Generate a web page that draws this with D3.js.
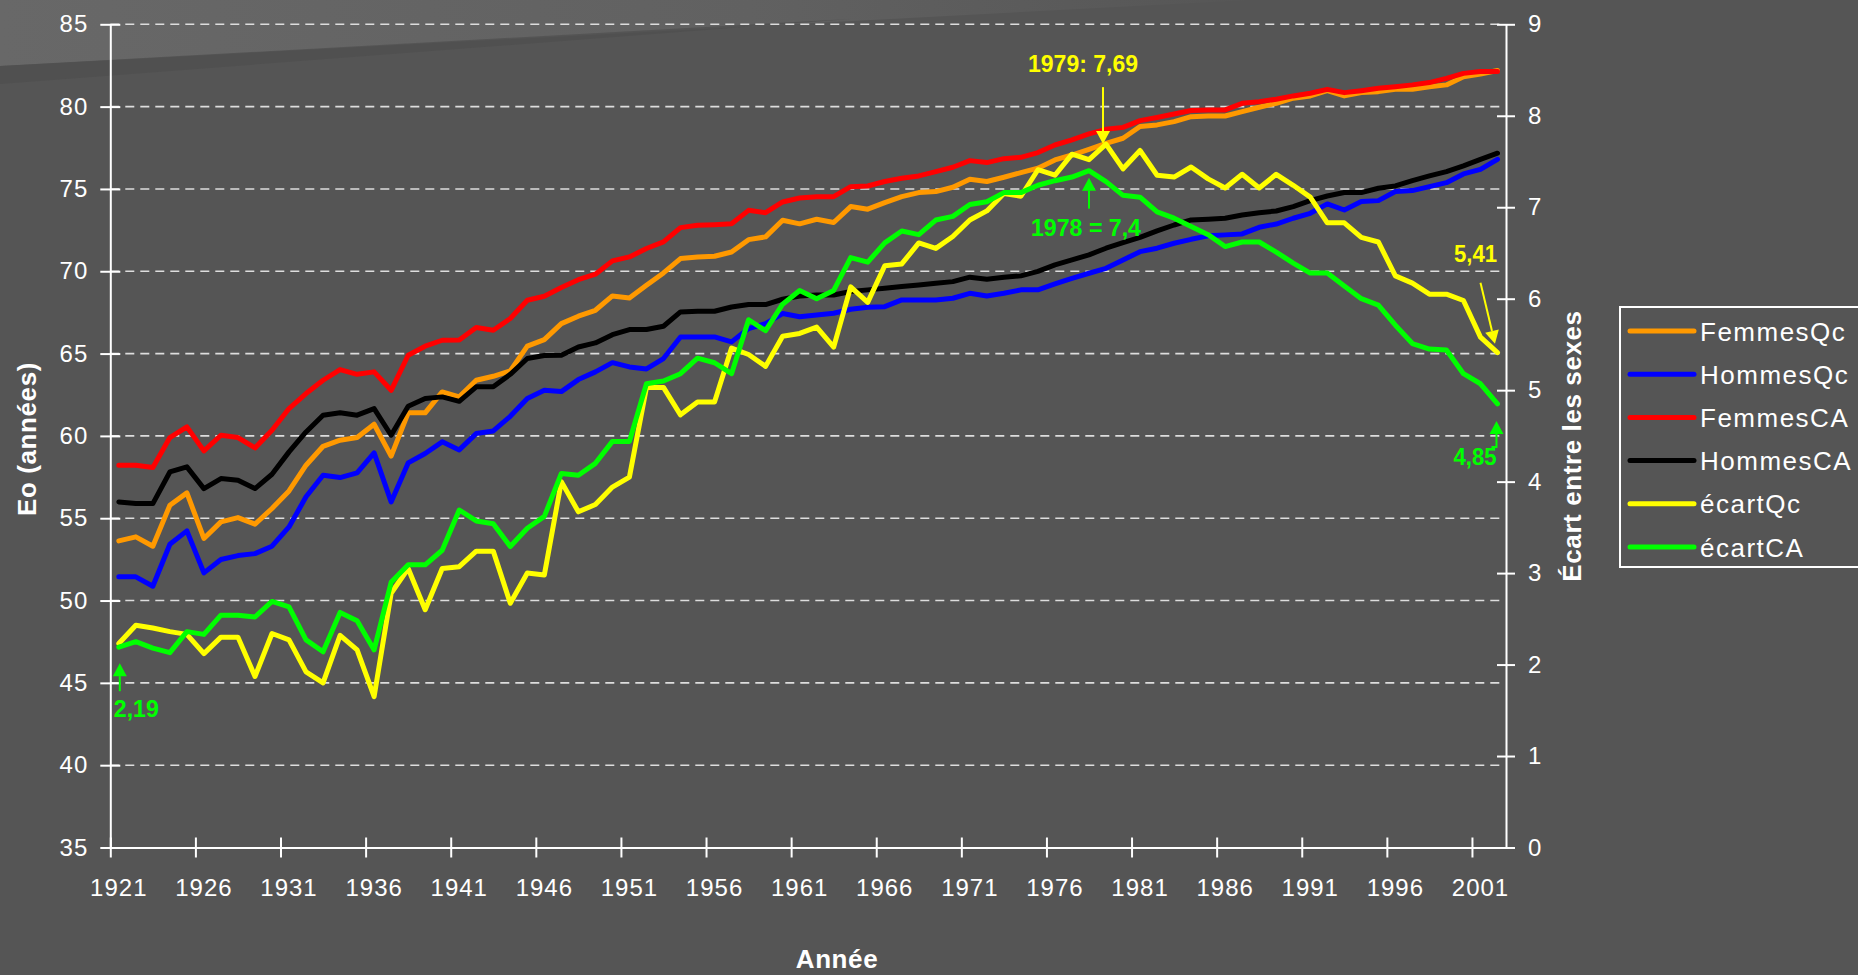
<!DOCTYPE html>
<html>
<head>
<meta charset="utf-8">
<title>Espérance de vie à la naissance, Québec et Canada, 1921-2002</title>
<script src="https://cdn.jsdelivr.net/npm/d3@7/dist/d3.min.js"></script>
<style>
  body { margin: 0; background: #555555; }
  svg { display: block; font-family: "Liberation Sans", Arial, sans-serif; }
  .tick text { fill: #ffffff; font-size: 24px; letter-spacing: 1px; }
  .tick line, .domain { stroke: #ffffff; stroke-width: 2; }
</style>
</head>
<body>
<div id="chart"></div>
<script>
// ---------------------------------------------------------------- data
const years = d3.range(1921, 2003);
const labelYears = years.filter(y => (y - 1921) % 5 === 0);
const leftTicks = d3.range(35, 86, 5);
const rightTicks = d3.range(0, 10);

const femmesQc = [
  53.62, 53.87, 53.30, 55.79, 56.54, 53.77, 54.78, 55.04, 54.64, 55.59,
  56.66, 58.22, 59.37, 59.74, 59.90, 60.71, 58.77, 61.40, 61.40, 62.67,
  62.37, 63.38, 63.62, 63.95, 65.45, 65.85, 66.82, 67.27, 67.63, 68.50,
  68.38, 69.15, 69.90, 70.77, 70.87, 70.91, 71.17, 71.92, 72.09, 73.10,
  72.88, 73.16, 72.96, 73.93, 73.77, 74.17, 74.53, 74.78, 74.84, 75.10,
  75.59, 75.45, 75.71, 75.99, 76.26, 76.76, 77.06, 77.41, 77.77, 78.08,
  78.79, 78.89, 79.09, 79.39, 79.43, 79.43, 79.70, 79.96, 80.20, 80.51,
  80.65, 80.97, 80.65, 80.85, 80.91, 81.05, 81.05, 81.21, 81.32, 81.82,
  81.98, 82.19];
const hommesQc = [
  51.44, 51.44, 50.87, 53.42, 54.23, 51.68, 52.49, 52.73, 52.85, 53.30,
  54.47, 56.30, 57.61, 57.47, 57.75, 58.97, 55.99, 58.36, 58.93, 59.64,
  59.15, 60.14, 60.30, 61.19, 62.27, 62.77, 62.69, 63.42, 63.89, 64.45,
  64.19, 64.07, 64.70, 66.01, 66.01, 66.01, 65.71, 66.52, 66.82, 67.43,
  67.24, 67.35, 67.45, 67.69, 67.81, 67.85, 68.26, 68.26, 68.26, 68.36,
  68.66, 68.50, 68.66, 68.87, 68.87, 69.23, 69.57, 69.88, 70.18, 70.69,
  71.19, 71.40, 71.70, 71.94, 72.15, 72.21, 72.27, 72.67, 72.87, 73.22,
  73.52, 74.09, 73.72, 74.23, 74.29, 74.84, 74.90, 75.14, 75.38, 75.91,
  76.19, 76.80];
const femmesCA = [
  58.22, 58.22, 58.08, 59.90, 60.55, 59.09, 60.04, 59.90, 59.27, 60.34,
  61.66, 62.57, 63.38, 64.03, 63.74, 63.89, 62.77, 64.90, 65.45, 65.81,
  65.82, 66.58, 66.42, 67.13, 68.24, 68.48, 69.01, 69.49, 69.82, 70.63,
  70.87, 71.38, 71.78, 72.65, 72.79, 72.83, 72.89, 73.70, 73.56, 74.21,
  74.45, 74.53, 74.53, 75.14, 75.18, 75.45, 75.65, 75.79, 76.05, 76.32,
  76.72, 76.60, 76.84, 76.92, 77.21, 77.67, 77.98, 78.34, 78.62, 78.74,
  79.15, 79.34, 79.55, 79.76, 79.80, 79.80, 80.20, 80.30, 80.45, 80.65,
  80.81, 81.05, 80.85, 80.97, 81.11, 81.21, 81.32, 81.46, 81.72, 82.02,
  82.13, 82.13];
const hommesCA = [
  55.99, 55.89, 55.89, 57.81, 58.12, 56.80, 57.41, 57.31, 56.80, 57.67,
  59.03, 60.24, 61.26, 61.40, 61.26, 61.66, 60.04, 61.80, 62.27, 62.37,
  62.10, 62.98, 62.98, 63.74, 64.70, 64.88, 64.90, 65.40, 65.65, 66.15,
  66.46, 66.46, 66.66, 67.53, 67.57, 67.57, 67.83, 67.98, 67.98, 68.30,
  68.50, 68.56, 68.56, 68.77, 68.87, 68.97, 69.07, 69.17, 69.27, 69.37,
  69.64, 69.51, 69.64, 69.72, 69.99, 70.39, 70.69, 71.00, 71.40, 71.74,
  72.06, 72.45, 72.81, 73.12, 73.16, 73.22, 73.42, 73.56, 73.66, 73.93,
  74.29, 74.57, 74.78, 74.78, 75.04, 75.18, 75.51, 75.79, 76.05, 76.40,
  76.80, 77.17];
const ecartQc = [
  2.23, 2.43, 2.40, 2.36, 2.33, 2.12, 2.30, 2.30, 1.87, 2.34,
  2.27, 1.92, 1.80, 2.32, 2.16, 1.65, 2.78, 3.05, 2.60, 3.05,
  3.07, 3.24, 3.24, 2.67, 3.00, 2.98, 4.00, 3.67, 3.75, 3.94,
  4.05, 5.03, 5.03, 4.73, 4.87, 4.87, 5.46, 5.39, 5.26, 5.59,
  5.62, 5.69, 5.47, 6.13, 5.96, 6.36, 6.38, 6.61, 6.55, 6.68,
  6.86, 6.96, 7.15, 7.12, 7.41, 7.35, 7.58, 7.52, 7.69, 7.42,
  7.62, 7.35, 7.33, 7.44, 7.31, 7.21, 7.36, 7.21, 7.36, 7.24,
  7.11, 6.83, 6.83, 6.67, 6.62, 6.25, 6.17, 6.05, 6.05, 5.98,
  5.58, 5.41];
const ecartCA = [
  2.19, 2.25, 2.18, 2.13, 2.36, 2.33, 2.54, 2.54, 2.52, 2.69,
  2.63, 2.27, 2.14, 2.57, 2.48, 2.16, 2.90, 3.09, 3.09, 3.25,
  3.69, 3.57, 3.54, 3.29, 3.49, 3.62, 4.09, 4.07, 4.20, 4.44,
  4.44, 5.07, 5.10, 5.18, 5.35, 5.30, 5.18, 5.77, 5.65, 5.94,
  6.09, 6.00, 6.09, 6.45, 6.40, 6.61, 6.74, 6.70, 6.86, 6.90,
  7.03, 7.06, 7.16, 7.16, 7.24, 7.29, 7.33, 7.40, 7.28, 7.13,
  7.11, 6.95, 6.88, 6.79, 6.70, 6.57, 6.62, 6.62, 6.51, 6.39,
  6.28, 6.28, 6.14, 6.00, 5.93, 5.71, 5.51, 5.45, 5.44, 5.18,
  5.07, 4.85];

// series: name, values, colour, which axis
const series = [
  {name: "FemmesQc", values: femmesQc, color: "#ff9900", axis: "left"},
  {name: "HommesQc", values: hommesQc, color: "#0000ff", axis: "left"},
  {name: "FemmesCA", values: femmesCA, color: "#ff0000", axis: "left"},
  {name: "HommesCA", values: hommesCA, color: "#000000", axis: "left"},
  {name: "écartQc", values: ecartQc, color: "#ffff00", axis: "right"},
  {name: "écartCA", values: ecartCA, color: "#00ff00", axis: "right"}
];

// ---------------------------------------------------------------- svg
const W = 1858, H = 975;
const plot = {left: 110.3, right: 1506, top: 24.3, bottom: 847.5};

const svg = d3.select("#chart").append("svg")
    .attr("width", W)
    .attr("height", H);

// background + lighter band top left
const defs = svg.append("defs");
const lite = defs.append("linearGradient").attr("id", "lite")
    .attr("x1", 0).attr("x2", 1).attr("y1", 0).attr("y2", 0);
lite.append("stop").attr("offset", 0).attr("stop-color", "#686868");
lite.append("stop").attr("offset", 0.6).attr("stop-color", "#616161");
lite.append("stop").attr("offset", 1).attr("stop-color", "#565656");

svg.append("rect").attr("width", W).attr("height", H).attr("fill", "#555555");
svg.append("polygon").attr("points", "0,0 1250,0 0,66").attr("fill", "url(#lite)");
svg.append("polygon").attr("points", "0,66 850,19 0,84").attr("fill", "#4e4e4e").attr("opacity", 0.7);

// ---------------------------------------------------------------- scales
const x = d3.scaleBand().domain(years).range([plot.left, plot.right]);
const xc = d => x(d) + x.bandwidth() / 2;
const xb = d3.scaleLinear().domain([0, years.length]).range([plot.left, plot.right]);
const yL = d3.scaleLinear().domain([35, 85]).range([plot.bottom, plot.top]);
const yR = d3.scaleLinear().domain([0, 9]).range([plot.bottom, plot.top]);

// ---------------------------------------------------------------- grid
svg.append("g").selectAll("line")
    .data(leftTicks.filter(v => v > 35))
    .enter().append("line")
    .attr("x1", plot.left).attr("x2", plot.right - 4)
    .attr("y1", d => yL(d)).attr("y2", d => yL(d))
    .attr("stroke", "#dddddd")
    .attr("stroke-width", 1.6)
    .attr("stroke-dasharray", "9,6");

// ---------------------------------------------------------------- axes
const gL = svg.append("g")
    .attr("transform", `translate(${plot.left},0)`)
    .call(d3.axisLeft(yL).tickValues(leftTicks).tickSize(10).tickSizeOuter(0).tickPadding(12));
gL.selectAll(".tick line").attr("x1", 10);

const gR = svg.append("g")
    .attr("transform", `translate(${plot.right},0)`)
    .call(d3.axisRight(yR).tickValues(rightTicks).tickSize(9).tickSizeOuter(0).tickPadding(13));
gR.selectAll(".tick line").attr("x1", -9);

const gB = svg.append("g")
    .attr("transform", `translate(0,${plot.bottom})`)
    .call(d3.axisBottom(xb).tickValues(d3.range(0, years.length, 5)).tickFormat("").tickSize(10).tickSizeOuter(0));
gB.selectAll(".tick line").attr("y1", -10);

const gLab = svg.append("g")
    .attr("transform", `translate(0,${plot.bottom})`)
    .call(d3.axisBottom(x).tickValues(labelYears).tickSize(0).tickPadding(31));
gLab.select(".domain").remove();

svg.selectAll(".tick text").attr("font-family", "Liberation Sans, Arial, sans-serif");

// axis titles
const title = (txt, tx, ty, rot) => svg.append("text")
    .attr("transform", `translate(${tx},${ty}) rotate(${rot})`)
    .attr("text-anchor", "middle")
    .attr("fill", "#ffffff")
    .style("font-size", "26px")
    .style("font-weight", "bold")
    .style("letter-spacing", "0.6px")
    .text(txt);
title("Eo (années)", 36, 439, -90);
title("Écart entre les sexes", 1581, 446, -90);
title("Année", 837, 968, 0);

// ---------------------------------------------------------------- lines
series.forEach(s => {
  const yS = s.axis === "left" ? yL : yR;
  const line = d3.line()
      .x((d, i) => xc(years[i]))
      .y(d => yS(d));
  svg.append("path")
      .datum(s.values)
      .attr("d", line)
      .attr("fill", "none")
      .attr("stroke", s.color)
      .attr("stroke-width", 5)
      .attr("stroke-linejoin", "round")
      .attr("stroke-linecap", "round");
});

// ---------------------------------------------------------------- annotations
function arrow(x1, y1, x2, y2, color) {
  const dx = x2 - x1, dy = y2 - y1, len = Math.hypot(dx, dy);
  const ux = dx / len, uy = dy / len, hl = 13, hw = 7;
  const bx = x2 - ux * hl, by = y2 - uy * hl;
  svg.append("line")
      .attr("x1", x1).attr("y1", y1).attr("x2", bx).attr("y2", by)
      .attr("stroke", color).attr("stroke-width", 2);
  svg.append("polygon")
      .attr("points", [[x2, y2], [bx - uy * hw, by + ux * hw], [bx + uy * hw, by - ux * hw]].join(" "))
      .attr("fill", color);
}
function note(txt, tx, ty, anchor, width, color) {
  svg.append("text")
      .attr("x", tx).attr("y", ty)
      .attr("text-anchor", anchor)
      .attr("fill", color)
      .attr("textLength", width)
      .attr("lengthAdjust", "spacingAndGlyphs")
      .style("font-size", "23px")
      .style("font-weight", "bold")
      .text(txt);
}

// 1979 maximum, Québec
const qx = xc(1979) - 3, qy = yR(7.69);
arrow(qx, qy - 57, qx, qy, "#ffff00");
note("1979: 7,69", qx - 20, qy - 72, "middle", 110, "#ffff00");

// 1978 maximum, Canada
const cx = xc(1978), cy = yR(7.4) + 7;
arrow(cx, cy + 31, cx, cy, "#00ff00");
note("1978 = 7,4", cx - 3, cy + 58, "middle", 110, "#00ff00");

// 2002, Québec
const ex = xc(2002) - 2.5, ey = yR(5.41) - 9;
arrow(ex - 14.5, ey - 61, ex, ey, "#ffff00");
note("5,41", ex + 2, ey - 82, "end", 43, "#ffff00");

// 2002, Canada
const gx = xc(2002) - 1, gy = yR(4.85) + 17;
svg.append("polyline")
    .attr("points", `${gx - 5},${gy + 26} ${gx},${gy + 26} ${gx},${gy + 12}`)
    .attr("fill", "none").attr("stroke", "#00ff00").attr("stroke-width", 2);
arrow(gx, gy + 14, gx, gy, "#00ff00");
note("4,85", gx, gy + 44, "end", 43, "#00ff00");

// 1921, Canada
const sx = xc(1921) + 1, sy = yR(2.19) + 16;
arrow(sx, sy + 28, sx, sy, "#00ff00");
note("2,19", sx - 6, sy + 54, "start", 45, "#00ff00");

// ---------------------------------------------------------------- legend
const legend = svg.append("g").attr("transform", "translate(1620,307)");
legend.append("rect")
    .attr("width", 260).attr("height", 260)
    .attr("fill", "none")
    .attr("stroke", "#ffffff")
    .attr("stroke-width", 2);
const items = legend.selectAll("g.item")
    .data(series)
    .enter().append("g")
    .attr("class", "item")
    .attr("transform", (d, i) => `translate(0,${24 + i * 43.2})`);
items.append("line")
    .attr("x1", 10).attr("x2", 74)
    .attr("stroke", d => d.color)
    .attr("stroke-width", 5)
    .attr("stroke-linecap", "round");
items.append("text")
    .attr("x", 80).attr("y", 9.5)
    .attr("fill", "#ffffff")
    .style("font-size", "26px")
    .style("letter-spacing", "1.5px")
    .text(d => d.name);
</script>
</body>
</html>
